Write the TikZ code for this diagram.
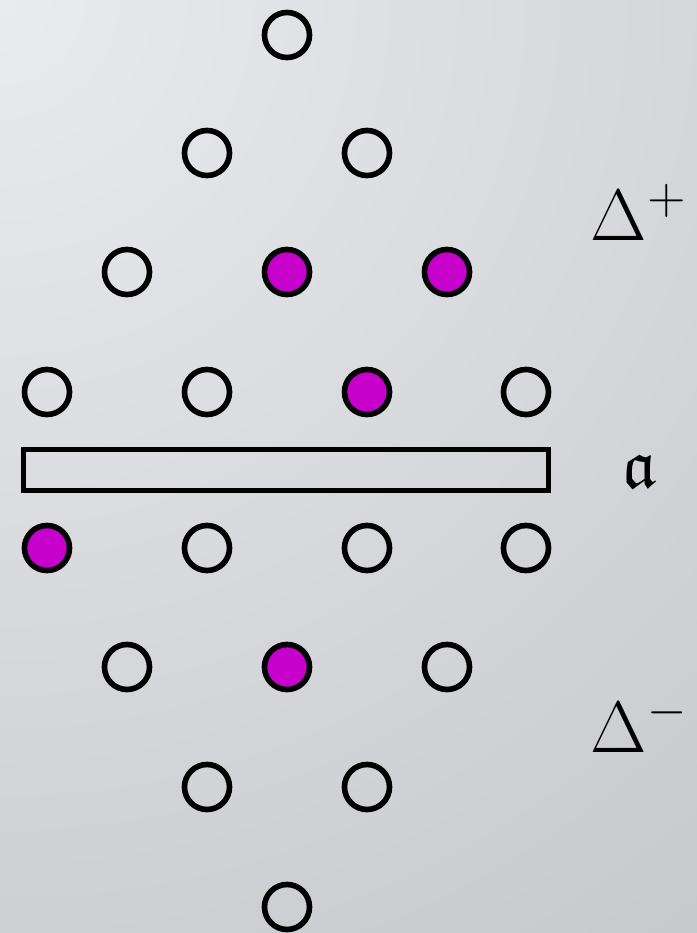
\documentclass[tikz,border=0pt]{standalone}
\usepackage{amsmath,amssymb}
\usetikzlibrary{positioning}
\definecolor{bgin}{RGB}{234,235,239}
\definecolor{bgout}{RGB}{186,187,189}
\definecolor{rootfill}{RGB}{200,0,204}
\pgfdeclareradialshading{bgshade}{\pgfpoint{0bp}{0bp}}{color(0bp)=(bgin); color(25bp)=(bgout); color(50bp)=(bgout)}
\tikzset{
  root/.style={circle, draw=black, line width=1.6pt, fill=none, minimum size=0.45cm, inner sep=0pt},
  simple/.style={root, fill=rootfill},
  cartan/.style={draw=black, line width=1.6pt, minimum width=5.25cm, minimum height=0.41cm, inner sep=0pt},
  lbl/.style={inner sep=0pt, font=\fontsize{19.5}{23}\selectfont}
}
\begin{document}
\begin{tikzpicture}[x=0.01cm, y=-0.01cm]
  %% background
  \useasboundingbox (0,0) rectangle (697,933);
  \begin{scope}
    \clip (0,0) rectangle (697,933);
    \shade[shading=bgshade] (0,0) circle (1626);
  \end{scope}

  %% positive roots
  \node[root] (p1) at (287,35) {};
  \node[root] (p2a) at (207,153) {};
  \node[root] (p2b) at (367,153) {};
  \node[root] (p3a) at (127,272) {};
  \node[simple] (p3b) at (287,272) {};
  \node[simple] (p3c) at (447,272) {};
  \node[root] (p4a) at (47,392) {};
  \node[root] (p4b) at (207,392) {};
  \node[simple] (p4c) at (367,392) {};
  \node[root] (p4d) at (526,392) {};

  %% Cartan subalgebra
  \node[cartan] (h) at (286,470) {};

  %% negative roots
  \node[simple] (n4a) at (47,548) {};
  \node[root] (n4b) at (207,548) {};
  \node[root] (n4c) at (367,548) {};
  \node[root] (n4d) at (526,548) {};
  \node[root] (n3a) at (127,667) {};
  \node[simple] (n3b) at (287,667) {};
  \node[root] (n3c) at (447,667) {};
  \node[root] (n2a) at (207,787) {};
  \node[root] (n2b) at (367,787) {};
  \node[root] (n1) at (287,907) {};

  %% labels
  \node[lbl, anchor=base west] (dplus) at (590,240) {$\Delta^+$};
  \node[lbl, anchor=base west] (ha) at (622,487) {$\mathfrak{a}$};
  \node[lbl, anchor=base west] (dminus) at (590,752) {$\Delta^-$};
\end{tikzpicture}
\end{document}
